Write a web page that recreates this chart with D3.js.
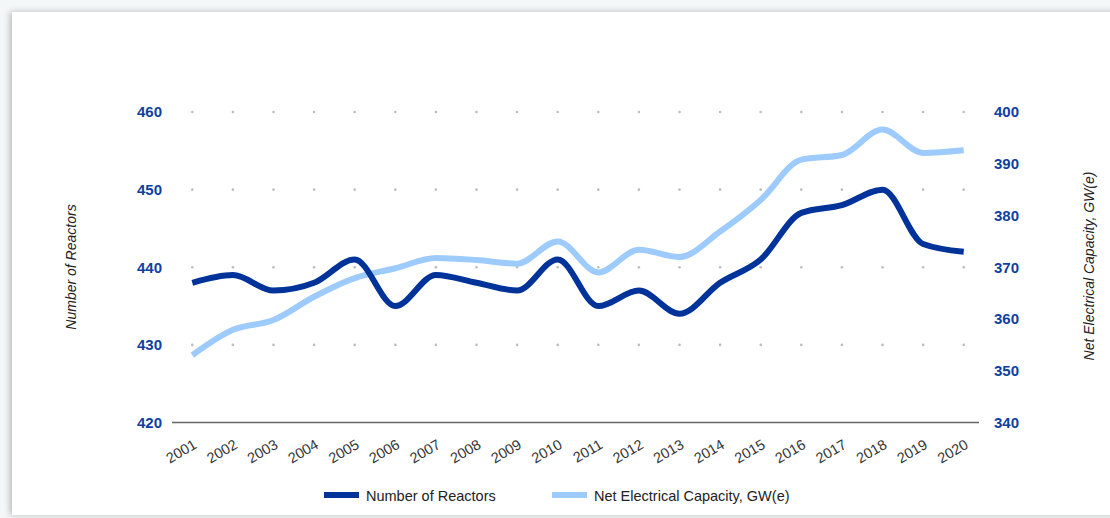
<!DOCTYPE html>
<html><head><meta charset="utf-8">
<script src="https://cdn.jsdelivr.net/npm/d3@7"></script>
<style>
html,body{margin:0;padding:0;background:#f4f7f7;}
svg{display:block;font-family:"Liberation Sans",Arial,Helvetica,sans-serif;}
</style></head>
<body>
<svg id="c" width="1110" height="518"></svg>
<script>
const years = ["2001","2002","2003","2004","2005","2006","2007","2008","2009","2010","2011","2012","2013","2014","2015","2016","2017","2018","2019","2020"];
const reactors = [438,439,437,438,441,435,439,438,437,441,435,437,434,438,441,447,448,450,443,442];
const capacity = [353,357.9,359.8,364.3,367.9,369.8,371.8,371.4,370.7,375.0,369.0,373.4,372.0,376.9,383.0,390.8,391.7,396.6,392.1,392.6];
const leftTicks = [420,430,440,450,460];
const rightTicks = [340,350,360,370,380,390,400];
const seriesNames = ["Number of Reactors","Net Electrical Capacity, GW(e)"];
const colors = ["#00339a","#9ecbfd"];

const svg = d3.select("#c");
const defs = svg.append("defs");
const f = defs.append("filter").attr("id","sh").attr("x","-5%").attr("y","-5%").attr("width","110%").attr("height","110%");
f.append("feDropShadow").attr("dx",-2).attr("dy",0).attr("stdDeviation",3).attr("flood-color","#000").attr("flood-opacity",0.25);
svg.append("rect").attr("x",12).attr("y",12).attr("width",1110).attr("height",503).attr("fill","#fff").attr("filter","url(#sh)");

const x = d3.scalePoint().domain(years).range([172,984]).padding(0.5);
const yL = d3.scaleLinear().domain([420,460]).range([422.5,112]);
const yR = d3.scaleLinear().domain([340,400]).range([422.5,112]);

const g = svg.append("g");
leftTicks.filter(t=>t>420).forEach(t=>{
  g.selectAll(null).data(years).enter().append("circle")
    .attr("cx",d=>x(d)).attr("cy",yL(t)).attr("r",1.3).attr("fill","#bdbdbd");
});

svg.append("line").attr("x1",172).attr("x2",979).attr("y1",yL(420)).attr("y2",yL(420))
  .attr("stroke","#666").attr("stroke-width",1.5);

const axL = d3.axisLeft(yL).tickValues(leftTicks).tickSize(0).tickPadding(0);
const gL = svg.append("g").attr("transform","translate(162,0)").call(axL);
gL.select(".domain").remove();
gL.selectAll("text").attr("fill","#0f3fa0").attr("font-size",15).attr("font-weight","bold")
  .attr("font-family","Liberation Sans, Arial, sans-serif");

const axR = d3.axisRight(yR).tickValues(rightTicks).tickSize(0).tickPadding(0);
const gR = svg.append("g").attr("transform","translate(994,0)").call(axR);
gR.select(".domain").remove();
gR.selectAll("text").attr("fill","#0f3fa0").attr("font-size",15).attr("font-weight","bold")
  .attr("font-family","Liberation Sans, Arial, sans-serif");

const axX = d3.axisBottom(x).tickSize(0).tickPadding(0);
const gX = svg.append("g").attr("transform","translate(0,"+(yL(420))+")").call(axX);
gX.select(".domain").remove();
gX.selectAll("text")
  .attr("fill","#333").attr("font-size",14.5).attr("font-family","Liberation Sans, Arial, sans-serif")
  .attr("text-anchor","end").attr("dy",null).attr("y",0)
  .attr("transform","translate(5,25) rotate(-30)");

const lineL = d3.line().x((d,i)=>x(years[i])).y(d=>yL(d)).curve(d3.curveMonotoneX);
const lineR = d3.line().x((d,i)=>x(years[i])).y(d=>yR(d)).curve(d3.curveMonotoneX);
svg.append("path").attr("d",lineR(capacity)).attr("fill","none").attr("stroke",colors[1]).attr("stroke-width",6).attr("stroke-linejoin","round");
svg.append("path").attr("d",lineL(reactors)).attr("fill","none").attr("stroke",colors[0]).attr("stroke-width",6).attr("stroke-linejoin","round");

svg.append("text").attr("transform","translate(76,267) rotate(-90)").attr("text-anchor","middle")
  .attr("font-style","italic").attr("font-size",14).attr("fill","#222").text(seriesNames[0]);
svg.append("text").attr("transform","translate(1094,266) rotate(-90)").attr("text-anchor","middle")
  .attr("font-style","italic").attr("font-size",14).attr("fill","#222").text(seriesNames[1]);

const leg = [{x:324,tx:366},{x:552,tx:594}];
leg.forEach((l,i)=>{
  svg.append("rect").attr("x",l.x).attr("y",492).attr("width",35).attr("height",6).attr("fill",colors[i]);
  svg.append("text").attr("x",l.tx).attr("y",500.5).attr("font-size",14.5).attr("fill","#222").text(seriesNames[i]);
});
</script>
</body></html>
